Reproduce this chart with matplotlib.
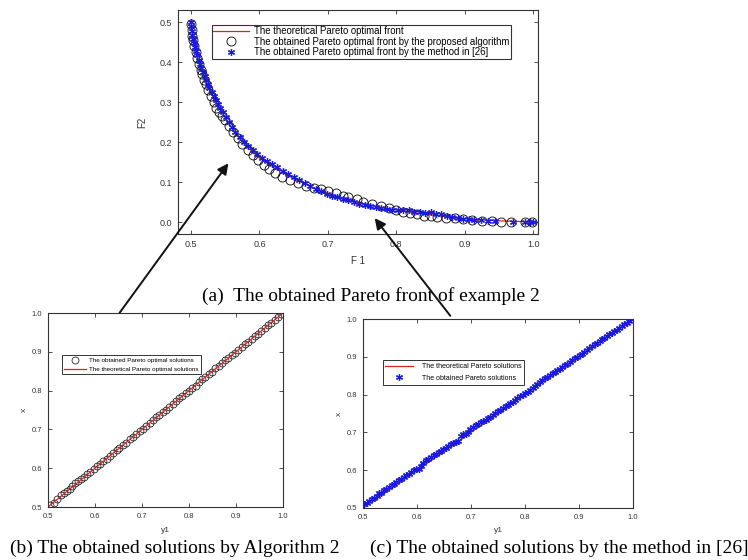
import matplotlib
matplotlib.use('Agg')
import matplotlib.pyplot as plt
from matplotlib.patches import FancyArrowPatch

plt.rcParams['font.family'] = ['Liberation Sans', 'DejaVu Sans']

# (a) Pareto front
F1_theory = [0.500, 0.505, 0.510, 0.520, 0.530, 0.540, 0.550, 0.560, 0.570, 0.580, 0.600,
             0.620, 0.650, 0.680, 0.700, 0.730, 0.750, 0.780, 0.800, 0.850, 0.900, 0.950, 1.000]
F2_theory = [0.500, 0.450, 0.410, 0.360, 0.320, 0.290, 0.260, 0.235, 0.210, 0.190, 0.160,
             0.140, 0.108, 0.085, 0.072, 0.056, 0.047, 0.036, 0.030, 0.018, 0.008, 0.003, 0.000]

F1_prop = [0.500, 0.501, 0.502, 0.503, 0.505, 0.507, 0.509, 0.511, 0.514, 0.516, 0.519, 0.522,
           0.525, 0.529, 0.533, 0.537, 0.541, 0.545, 0.550, 0.556, 0.562, 0.568, 0.575, 0.583,
           0.590, 0.598, 0.606, 0.614, 0.623, 0.633, 0.645, 0.657, 0.668, 0.679, 0.690, 0.700,
           0.712, 0.722, 0.730, 0.742, 0.752, 0.765, 0.778, 0.790, 0.800, 0.810, 0.820, 0.830,
           0.840, 0.850, 0.860, 0.872, 0.885, 0.897, 0.910, 0.925, 0.940, 0.953, 0.968, 0.988, 0.998]
F2_prop = [0.495, 0.480, 0.465, 0.455, 0.440, 0.425, 0.410, 0.395, 0.380, 0.370, 0.355, 0.345,
           0.330, 0.315, 0.300, 0.285, 0.275, 0.265, 0.255, 0.240, 0.225, 0.210, 0.195, 0.180,
           0.168, 0.155, 0.143, 0.133, 0.122, 0.113, 0.104, 0.098, 0.090, 0.085, 0.082, 0.078,
           0.072, 0.066, 0.063, 0.058, 0.050, 0.045, 0.040, 0.035, 0.030, 0.026, 0.022, 0.020,
           0.016, 0.014, 0.012, 0.010, 0.009, 0.007, 0.005, 0.003, 0.002, 0.001, 0.001, 0.000, 0.000]

F1_ref = [0.500, 0.500, 0.501, 0.502, 0.503, 0.504, 0.506, 0.507, 0.509, 0.511, 0.513, 0.515,
          0.517, 0.520, 0.522, 0.525, 0.527, 0.530, 0.533, 0.536, 0.539, 0.543, 0.547, 0.551,
          0.556, 0.560, 0.565, 0.571, 0.577, 0.583, 0.590, 0.597, 0.604, 0.611, 0.618, 0.626,
          0.634, 0.642, 0.650, 0.658, 0.666, 0.674, 0.682, 0.690, 0.698, 0.706, 0.714, 0.722,
          0.730, 0.738, 0.746, 0.754, 0.762, 0.770, 0.778, 0.786, 0.794, 0.802, 0.810, 0.818,
          0.826, 0.834, 0.842, 0.850, 0.858, 0.866, 0.874, 0.882, 0.890, 0.898, 0.906, 0.914,
          0.924, 0.934, 0.944, 0.970, 0.988, 0.996, 1.000]
F2_ref = [0.500, 0.490, 0.478, 0.468, 0.458, 0.448, 0.438, 0.428, 0.418, 0.406, 0.396, 0.385,
          0.375, 0.365, 0.355, 0.345, 0.335, 0.325, 0.315, 0.305, 0.295, 0.285, 0.275, 0.263,
          0.250, 0.238, 0.225, 0.212, 0.200, 0.190, 0.180, 0.170, 0.160, 0.152, 0.145, 0.137,
          0.128, 0.120, 0.112, 0.104, 0.097, 0.090, 0.083, 0.077, 0.071, 0.066, 0.062, 0.058,
          0.054, 0.050, 0.046, 0.043, 0.040, 0.037, 0.035, 0.033, 0.031, 0.030, 0.031, 0.029,
          0.026, 0.024, 0.022, 0.024, 0.020, 0.019, 0.016, 0.013, 0.010, 0.008, 0.007, 0.005,
          0.004, 0.003, 0.002, 0.001, 0.000, 0.000, 0.000]

# (b) solutions by Algorithm 2
y1_alg = [0.505, 0.512, 0.520, 0.527, 0.533, 0.540, 0.546, 0.552, 0.558, 0.563,
          0.570, 0.577, 0.584, 0.590, 0.597, 0.604, 0.611, 0.618, 0.625, 0.632,
          0.639, 0.646, 0.652, 0.660, 0.667, 0.674, 0.681, 0.688, 0.695, 0.702,
          0.709, 0.716, 0.723, 0.730, 0.737, 0.744, 0.751, 0.758, 0.765, 0.772,
          0.779, 0.786, 0.793, 0.800, 0.807, 0.814, 0.821, 0.828, 0.835, 0.842,
          0.849, 0.856, 0.863, 0.870, 0.877, 0.884, 0.891, 0.898, 0.905, 0.912,
          0.919, 0.926, 0.933, 0.940, 0.947, 0.954, 0.961, 0.968, 0.975, 0.982,
          0.990, 0.996]
x_alg = [0.505, 0.511, 0.521, 0.530, 0.536, 0.541, 0.547, 0.553, 0.562, 0.566,
         0.571, 0.577, 0.585, 0.591, 0.598, 0.605, 0.612, 0.618, 0.625, 0.632,
         0.639, 0.647, 0.652, 0.659, 0.666, 0.674, 0.681, 0.689, 0.696, 0.702,
         0.709, 0.717, 0.724, 0.731, 0.737, 0.745, 0.751, 0.757, 0.765, 0.772,
         0.780, 0.787, 0.793, 0.800, 0.806, 0.813, 0.822, 0.829, 0.835, 0.842,
         0.849, 0.857, 0.864, 0.871, 0.878, 0.885, 0.891, 0.898, 0.905, 0.912,
         0.919, 0.926, 0.932, 0.940, 0.947, 0.953, 0.961, 0.968, 0.975, 0.981,
         0.990, 0.997]

# (c) solutions by the method in [26]
y1_ref = [0.502, 0.507, 0.511, 0.516, 0.520, 0.525, 0.530, 0.534, 0.539, 0.543,
          0.548, 0.553, 0.557, 0.562, 0.566, 0.571, 0.576, 0.580, 0.585, 0.589,
          0.594, 0.598, 0.603, 0.608, 0.612, 0.617, 0.621, 0.626, 0.631, 0.635,
          0.640, 0.644, 0.649, 0.653, 0.658, 0.663, 0.667, 0.672, 0.676, 0.681,
          0.686, 0.690, 0.695, 0.699, 0.704, 0.709, 0.713, 0.718, 0.722, 0.727,
          0.731, 0.736, 0.741, 0.745, 0.750, 0.754, 0.759, 0.764, 0.768, 0.773,
          0.777, 0.782, 0.786, 0.791, 0.796, 0.800, 0.805, 0.809, 0.814, 0.819,
          0.823, 0.828, 0.832, 0.837, 0.841, 0.846, 0.851, 0.855, 0.860, 0.864,
          0.869, 0.874, 0.878, 0.883, 0.887, 0.892, 0.896, 0.901, 0.906, 0.910,
          0.915, 0.919, 0.924, 0.929, 0.933, 0.938, 0.942, 0.947, 0.951, 0.956,
          0.961, 0.965, 0.970, 0.974, 0.979, 0.984, 0.988, 0.993, 0.997]
x_ref = [0.510, 0.514, 0.519, 0.524, 0.527, 0.533, 0.539, 0.541, 0.547, 0.551,
         0.556, 0.561, 0.564, 0.569, 0.573, 0.578, 0.583, 0.586, 0.591, 0.595,
         0.600, 0.602, 0.604, 0.611, 0.620, 0.626, 0.630, 0.635, 0.640, 0.643,
         0.648, 0.652, 0.656, 0.660, 0.664, 0.669, 0.672, 0.675, 0.677, 0.690,
         0.695, 0.697, 0.702, 0.708, 0.714, 0.719, 0.722, 0.727, 0.731, 0.734,
         0.737, 0.740, 0.745, 0.751, 0.756, 0.760, 0.765, 0.769, 0.773, 0.777,
         0.781, 0.786, 0.791, 0.795, 0.800, 0.804, 0.808, 0.812, 0.818, 0.824,
         0.829, 0.834, 0.838, 0.843, 0.847, 0.851, 0.856, 0.860, 0.864, 0.868,
         0.873, 0.878, 0.882, 0.887, 0.892, 0.896, 0.899, 0.904, 0.908, 0.913,
         0.918, 0.923, 0.928, 0.933, 0.936, 0.941, 0.946, 0.951, 0.954, 0.959,
         0.963, 0.967, 0.972, 0.976, 0.981, 0.986, 0.990, 0.995, 0.999]

line_ends = [0.5, 1.0]
ticks = [0.5, 0.6, 0.7, 0.8, 0.9, 1.0]
ticks_a_y = [0.0, 0.1, 0.2, 0.3, 0.4, 0.5]
star = (6, 2, 0)
W, H = 748, 560


def box(l, t, r, b):
    return [l / W, 1 - b / H, (r - l) / W, (b - t) / H]


def style(ax, size):
    ax.tick_params(direction='in', top=True, right=True, length=3, width=0.6,
                   labelsize=size, colors='#333333', pad=4)
    for s in ax.spines.values():
        s.set_linewidth(0.8)
        s.set_color('#333333')


fig = plt.figure(figsize=(7.48, 5.6), dpi=100)

ax1 = fig.add_axes(box(178, 10, 538, 234))
ax1.plot(F1_theory, F2_theory, color='#dd2020', lw=0.9,
         label='The theoretical Pareto optimal front')
ax1.plot(F1_prop, F2_prop, 'o', mfc='none', mec='black', ms=6.5, mew=0.6,
         label='The obtained Pareto optimal front by the proposed algorithm')
ax1.plot(F1_ref, F2_ref, ls='none', marker=star, color='#1a1adf', ms=5, mew=0.9,
         label='The obtained Pareto optimal front by the method in [26]')
ax1.set_xlim(0.481, 1.007)
ax1.set_ylim(-0.03, 0.53)
ax1.set_xticks(ticks)
ax1.set_yticks(ticks_a_y)
style(ax1, 6.5)
ax1.set_xlabel('F 1', fontsize=7, color='#333333', labelpad=5)
ax1.set_ylabel('F2', fontsize=7, color='#333333', labelpad=9)
leg = ax1.legend(loc='upper left', bbox_to_anchor=(0.08, 0.955), fontsize=6.9,
                 frameon=True, fancybox=False, edgecolor='black', handlelength=3.8,
                 borderpad=0.15, labelspacing=0.05, handletextpad=0.5)
leg.get_frame().set_linewidth(0.8)

ax2 = fig.add_axes(box(48, 313, 283, 507))
ax2.plot(y1_alg, x_alg, 'o', mfc='none', mec='black', ms=5, mew=0.5,
         label='The obtained Pareto optimal solutions')
ax2.plot(line_ends, line_ends, color='#dd2020', lw=0.9,
         label='The theoretical Pareto optimal solutions')
ax2.set_xlim(0.5, 1.0)
ax2.set_ylim(0.5, 1.0)
ax2.set_xticks(ticks)
ax2.set_yticks(ticks)
style(ax2, 5.5)
ax2.set_xlabel('y1', fontsize=6, color='#333333', labelpad=5)
ax2.set_ylabel('x', fontsize=6, color='#333333', labelpad=3)
leg = ax2.legend(loc='upper left', bbox_to_anchor=(0.045, 0.8), fontsize=4.5,
                 frameon=True, fancybox=False, edgecolor='black', handlelength=3.5,
                 borderpad=0.4, labelspacing=0.6, handletextpad=0.5)
leg.get_frame().set_linewidth(0.7)

ax3 = fig.add_axes(box(363, 319, 633, 508))
ax3.plot(line_ends, line_ends, color='#dd2020', lw=0.9,
         label='The theoretical Pareto solutions')
ax3.plot(y1_ref, x_ref, ls='none', marker=star, color='#1a1adf', ms=5, mew=0.9,
         label='The obtained Pareto solutions')
ax3.set_xlim(0.5, 1.0)
ax3.set_ylim(0.5, 1.0)
ax3.set_xticks(ticks)
ax3.set_yticks(ticks)
style(ax3, 5.5)
ax3.set_xlabel('y1', fontsize=6, color='#333333', labelpad=5)
ax3.set_ylabel('x', fontsize=6, color='#333333', labelpad=3)
leg = ax3.legend(loc='upper left', bbox_to_anchor=(0.06, 0.8), fontsize=5,
                 frameon=True, fancybox=False, edgecolor='black', handlelength=4,
                 borderpad=0.4, labelspacing=0.7, handletextpad=1.2)
leg.get_frame().set_linewidth(0.7)

serif = ['Liberation Serif', 'DejaVu Serif']
fig.text(371 / W, 1 - 296 / H, '(a)  The obtained Pareto front of example 2',
         ha='center', va='center', fontsize=14, family=serif)
fig.text(175 / W, 1 - 548 / H, '(b) The obtained solutions by Algorithm 2',
         ha='center', va='center', fontsize=14, family=serif)
fig.text(559 / W, 1 - 548 / H, '(c) The obtained solutions by the method in [26]',
         ha='center', va='center', fontsize=14, family=serif)

for tail, head in [((118, 315), (230, 161)), ((452, 318), (373, 216))]:
    arr = FancyArrowPatch((tail[0] / W, 1 - tail[1] / H), (head[0] / W, 1 - head[1] / H),
                          transform=fig.transFigure, arrowstyle='-|>', mutation_scale=16,
                          lw=1.4, color='#111111')
    fig.patches.append(arr)

fig.savefig('out.png', dpi=100)
